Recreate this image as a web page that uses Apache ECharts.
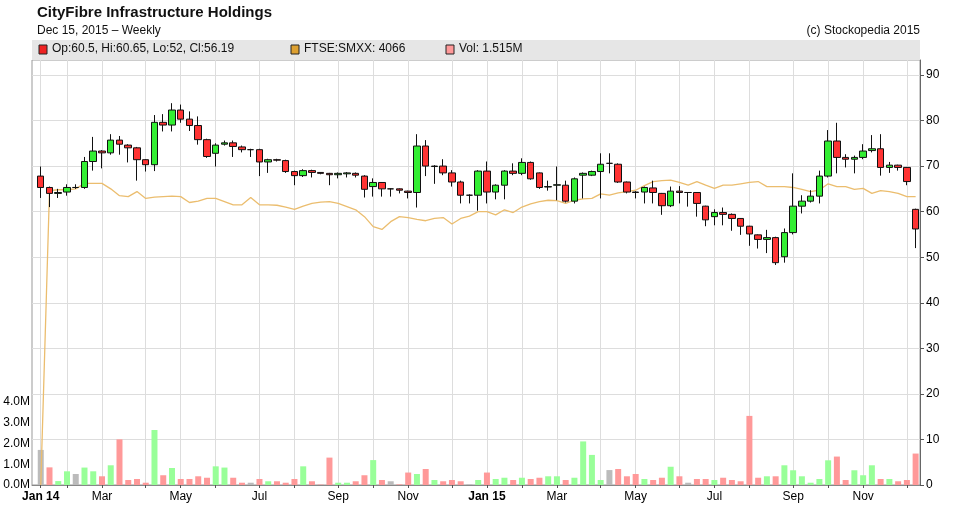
<!DOCTYPE html>
<html><head><meta charset="utf-8">
<script src="https://cdn.jsdelivr.net/npm/echarts@6/dist/echarts.min.js"></script>
<style>html,body{margin:0;padding:0;background:#fff}#c{width:956px;height:516px}</style>
</head><body><div id="c"></div>
<script>
// Weekly candles from week of 2014-01-06: [open, close, low, high]
const candles = [
[67.8,65.3,63,69.9],[65.3,64,61,65.5],[64,64.2,63,65],[64.3,65.3,63.5,66],[65.3,65.3,65,66],
[65.3,71,65,72],[71,73.3,69,76.4],[73.3,72.9,69.5,73.5],[72.9,75.7,72.5,77],[75.7,74.8,72.5,76.6],
[74.6,74,70.8,74.8],[74,71.4,66.8,74.2],[71.4,70.3,68.8,71.5],[70.3,79.6,68.9,81.2],[79.6,79,77.6,81.4],
[79,82.3,77.6,83.8],[82.3,80.3,79.5,83.5],[80.3,78.9,77.7,82],[78.9,75.8,74.7,80.9],[75.8,72.1,71.8,76],
[72.8,74.6,69.9,75],[74.8,75.1,74.5,75.6],[75.1,74.3,72,75.6],[74.2,73.6,73,74.5],[73.6,73.6,72,73.8],
[73.6,70.9,67.8,73.8],[70.9,71.4,68.5,71.6],[71.4,71.3,71,71.6],[71.2,68.8,68.5,71.4],[68.8,67.9,65.8,69],
[67.9,69,67.6,69.3],[69,68.6,67.5,69.2],[68.6,68.4,68.2,68.6],[68.4,68.1,65.8,68.5],[68.1,68.4,67.3,68.6],
[68.3,68.5,67.5,68.7],[68.4,68.0,67.5,68.6],[67.8,64.9,63.1,68],[65.5,66.4,63.3,67.3],[66.4,65,63.3,66.5],
[65,65,63.3,65.1],[65,64.7,64,65.1],[64.5,64.2,62.9,64.6],[64.2,74.4,60.9,77],[74.4,70,67.8,75.7],
[69.9,70,66.1,70.2],[70,68.5,68,71.5],[68.5,66.5,65.5,69.1],[66.5,63.6,61.8,66.8],[63.6,63.6,61.8,63.8],
[63.6,68.9,60.2,69.1],[68.9,64.3,61.8,71],[64.3,65.8,62.7,66],[65.8,68.9,62.7,69.1],[68.9,68.4,68,70.6],
[68.4,70.8,68,71.7],[70.8,67.2,67,71],[68.5,65.3,65,68.6],[65.4,65.5,64.6,66.8],[65.8,65.9,62.5,69.9],
[65.8,62.3,62,66.8],[62.3,67.2,61.8,67.5],[68,68.4,62.9,68.6],[68,68.8,67.8,69],[68.8,70.4,62.9,72.8],
[70.6,70.6,68.4,72.8],[70.4,66.5,66.3,70.6],[66.5,64.3,64,66.6],[64.3,64.2,62.9,64.5],[64.3,65.3,61.8,65.5],
[65.2,64.2,61.8,66.8],[64,61.3,59.3,64.1],[61.3,64.5,61,65.5],[64.5,64.2,61.8,65.6],[64.2,64.2,61.1,64.3],
[64.2,61.8,58.9,64.3],[61.2,58.2,56.8,61.3],[58.9,59.8,57,60.5],[59.8,59.4,57,60.9],[59.4,58.5,55.8,59.6],
[58.5,56.8,54.9,58.6],[56.8,55.1,52.5,56.9],[54.9,53.9,51.9,55],[53.9,54.3,50.9,56],[54.3,48.8,48.3,54.5],
[50.1,55.4,48.8,56.3],[55.4,61.2,55,68.4],[61.2,62.3,59.6,63.6],[62.3,63.4,62,64.7],[63.4,67.8,61.8,69],
[67.8,75.5,67.5,77.9],[75.5,71.9,68.4,79.5],[71.9,71.5,69.7,72.6],[71.5,71.9,68.4,72.3],[71.9,73.3,71.5,74.8],
[73.4,73.8,73,76.8],[73.8,69.7,67.9,77],[69.7,70.2,68.5,70.9],[70.2,69.7,69,70.3],[69.7,66.6,65.8,69.8],
[60.5,56.19,52,60.65]
];
const ftse = [0,64.6,64.8,64.8,65,66.2,66.2,66.2,65,63.5, 63.3,64.4,62.9,63.2,63.3,63.4,63.3,62,62.3,62.9,
62.9,62.2,61.5,61.5,63.1,61.5,61.5,61.4,61,60.5, 61.2,61.8,62.1,62.2,61.8,61.1,60.4,58.9,56.7,56.1,
57.8,58.9,58.7,58.3,58,58.5,58.7,57.3,58.5,59, 60,60,59.3,60.4,59.8,61,61.7,62.2,62.5,62.4,
61.8,62.5,62.8,62.9,63.9,63.6,64.1,64.4,64.7,65.7, 66.6,66.8,66.9,66.4,65.8,66.6,65.8,65.1,65.8,65.8,
66.1,66.4,66.6,65.5,65.5,65.5,65.3,64.9,64.4,64.75, 66.1,65.5,65.5,64.9,65.1,64,64.6,64.4,64,63.3, 63.3];
const volumeM = [1.69,0.85,0.19,0.66,0.53,0.84,0.66,0.42,0.95,2.2, 0.24,0.29,0.11,2.65,0.47,0.82,0.29,0.29,0.42,0.35,
0.9,0.84,0.35,0.11,0.11,0.29,0.18,0.18,0.11,0.29, 0.9,0.18,0.02,1.32,0.11,0.11,0.18,0.47,1.2,0.24,
0.18,0.03,0.6,0.53,0.77,0.24,0.18,0.24,0.18,0.03, 0.24,0.6,0.29,0.35,0.24,0.35,0.29,0.35,0.42,0.42,
0.24,0.35,2.1,1.45,0.24,0.72,0.77,0.42,0.53,0.29, 0.24,0.35,0.88,0.42,0.11,0.29,0.29,0.24,0.35,0.24,
0.18,3.33,0.35,0.42,0.42,0.95,0.71,0.42,0.11,0.29, 1.19,1.37,0.24,0.71,0.47,0.95,0.29,0.29,0.18,0.24, 1.515];
const greyVolumeWeeks = [0];
const priceTicks = [0,10,20,30,40,50,60,70,80,90];
const volTicksM = [0,1,2,3,4];
const monthNames = ['Jan','Feb','Mar','Apr','May','Jun','Jul','Aug','Sep','Oct','Nov','Dec'];
const startDate = Date.UTC(2014,0,6);

const monthPos = [], labelPos = [], labelText = {};
for (let y = 2014; y <= 2015; y++) for (let m = 0; m < 12; m++) {
  const idx = Math.max(0, Math.floor((Date.UTC(y,m,1) - startDate) / 864e5 / 7));
  if (idx > candles.length - 1) continue;
  monthPos.push(idx);
  if (m % 2 === 0) { labelPos.push(idx); labelText[idx] = m === 0 ? '{b|Jan ' + String(y).slice(2) + '}' : monthNames[m]; }
}

const RED='#ff3333', GREEN='#33ee33';
const candleData = candles.map((c,i)=>[i,c[0],c[1],c[2],c[3]]);
const volData = volumeM.map((v,i)=>{
  const c=candles[i];
  let col = c[1]>c[0] ? '#99ff99' : (c[1]<c[0] ? '#ff9999' : '#bbbbbb');
  if (greyVolumeWeeks.includes(i)) col='#bbbbbb';
  return {value:[i,v*1e6], itemStyle:{color:col}};
});
const last = candles[candles.length-1];
const FONT = 'Liberation Sans, Arial, sans-serif';

const chart = echarts.init(document.getElementById('c'));
chart.setOption({
  animation:false,
  backgroundColor:'#fff',
  textStyle:{fontFamily:FONT},
  grid:{left:32,right:36,top:60,bottom:31,show:true,borderColor:'#999',borderWidth:1},
  xAxis:{type:'value',min:-1,max:100.5,
    axisLine:{show:true,onZero:false,lineStyle:{color:'#888'}},
    axisTick:{show:true,customValues:monthPos,length:3,lineStyle:{color:'#555'}},
    splitLine:{show:true,lineStyle:{color:'#dddddd',width:1}},
    axisLabel:{customValues:labelPos,color:'#000',fontSize:12,margin:6,
      formatter:v=>labelText[v]||'',rich:{b:{fontWeight:'bold',fontSize:12,color:'#000'}}}},
  yAxis:[
    {type:'value',position:'right',min:0,max:93.28,
     axisLine:{show:true,onZero:false,lineStyle:{color:'#666'}},
     axisTick:{show:true,customValues:priceTicks,length:4,lineStyle:{color:'#555'}},
     axisLabel:{customValues:priceTicks,color:'#000',fontSize:12,margin:6},
     splitLine:{show:true,lineStyle:{color:'#dddddd'}}},
    {type:'value',position:'left',min:0,max:20.48e6,
     axisLine:{show:false,onZero:false},
     axisTick:{show:false},
     axisLabel:{customValues:volTicksM.map(v=>v*1e6),color:'#000',fontSize:12,margin:2,
       formatter:v=>(v/1e6).toFixed(1)+'M'},
     splitLine:{show:false}}
  ],
  series:[
    {type:'bar',yAxisIndex:1,data:volData,barWidth:6,z:1},
    {type:'line',yAxisIndex:0,data:ftse.map((v,i)=>[i,v]),showSymbol:false,
     lineStyle:{color:'#ebbd6e',width:1.3},z:2},
    {type:'candlestick',yAxisIndex:0,data:candleData,barWidth:7,z:3,
     itemStyle:{color:GREEN,color0:RED,borderColor:'#111',borderColor0:'#111',borderWidth:1}}
  ],
  graphic:[
    {type:'text',left:37,top:5,style:{text:'CityFibre Infrastructure Holdings',font:'bold 15px '+FONT,fill:'#111'}},
    {type:'text',left:37,top:25,style:{text:'Dec 15, 2015 \u2013 Weekly',font:'12px '+FONT,fill:'#111'}},
    {type:'text',right:36,top:25,style:{text:'(c) Stockopedia 2015',font:'12px '+FONT,fill:'#111',textAlign:'right'}},
    {type:'rect',shape:{x:32,y:40,width:888,height:20},style:{fill:'#e6e6e6'},z:10},
    {type:'rect',shape:{x:39,y:45,width:8,height:9},style:{fill:'#ee2222',stroke:'#222',lineWidth:1},z:11},
    {type:'text',x:52,y:43,style:{text:'Op:'+last[0]+', Hi:'+last[3]+', Lo:'+last[2]+', Cl:'+last[1],font:'12px '+FONT,fill:'#111'},z:11},
    {type:'rect',shape:{x:291,y:45,width:8,height:9},style:{fill:'#dda030',stroke:'#222',lineWidth:1},z:11},
    {type:'text',x:304,y:43,style:{text:'FTSE:SMXX: 4066',font:'12px '+FONT,fill:'#111'},z:11},
    {type:'rect',shape:{x:446,y:45,width:8,height:9},style:{fill:'#ff9999',stroke:'#222',lineWidth:1},z:11},
    {type:'text',x:459,y:43,style:{text:'Vol: '+volumeM[volumeM.length-1]+'M',font:'12px '+FONT,fill:'#111'},z:11}
  ]
});
</script></body></html>
